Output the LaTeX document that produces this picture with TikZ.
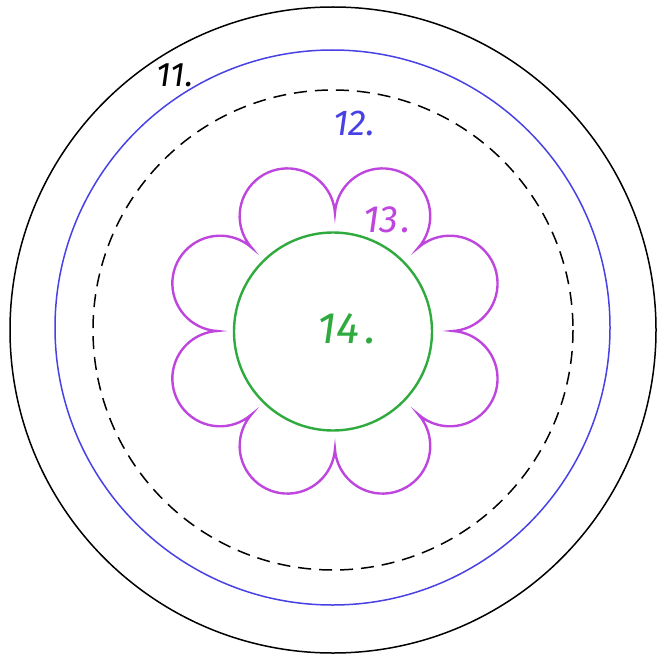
\documentclass[tikz,border=0pt]{standalone}
\usepackage{fontspec}
\usetikzlibrary{calc}
\newfontfamily\hand{Fira Sans}
\definecolor{ringblue}{RGB}{72,66,228}
\definecolor{flowerpurple}{RGB}{190,70,222}
\definecolor{centergreen}{RGB}{46,170,62}
\begin{document}
\begin{tikzpicture}[x=1pt,y=-1pt,
  ring/.style={line width=1.5pt},
  label/.style={font=\hand\itshape, inner sep=0pt}]
\useasboundingbox (0,0) rectangle (657,658);
\coordinate (C) at (333,330);
\coordinate (F) at (335,331);
% outer black circle
\draw[ring, black] (C) circle[radius=323];
% blue circle
\draw[ring, ringblue] (332.5,327.5) circle[radius=277.5];
% dashed circle
\draw[ring, black, dash pattern=on 13pt off 8pt] (333,330) circle[radius=240];
% flower
\draw[line width=2.4pt, flowerpurple, line join=miter]
  ($(F)+(0:118)$)
  \foreach \k in {0,...,7} {
    arc[start angle={22.5+45*\k-108.7}, end angle={22.5+45*\k+108.7}, radius=47.7]
  } -- cycle;
% green circle
\draw[line width=2.4pt, centergreen] (333,331.5) circle[radius=99];
% labels
\node[label, font=\hand\itshape\fontsize{34}{34}\selectfont, text=black] (l11) at (175,75) {11.};
\node[label, font=\hand\itshape\fontsize{36}{36}\selectfont, text=ringblue] (l12) at (354,123) {12.};
\node[label, font=\hand\itshape\fontsize{38}{38}\selectfont, text=flowerpurple] (l13) at (387,220) {13\kern3pt.};
\node[label, font=\hand\itshape\fontsize{44}{44}\selectfont, text=centergreen] (l14) at (347,329) {14\kern6pt.};
\end{tikzpicture}
\end{document}
